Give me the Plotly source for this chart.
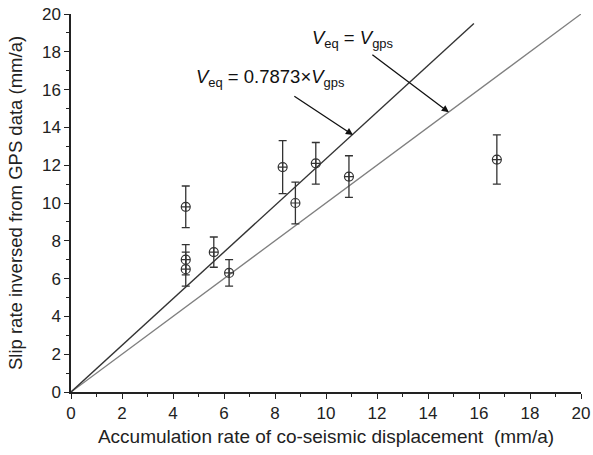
import plotly.graph_objects as go

# data
acc_rate = [4.5, 4.5, 4.5, 5.6, 6.2, 8.3, 8.8, 9.6, 10.9, 16.7]
slip_rate = [9.8, 7.0, 6.5, 7.4, 6.3, 11.9, 10.0, 12.1, 11.4, 12.3]
slip_err = [1.1, 0.8, 0.9, 0.8, 0.7, 1.4, 1.1, 1.1, 1.1, 1.3]

fit_x = [0, 15.8]
fit_y = [0, 19.5]
eq_x = [0, 20]
eq_y = [0, 20]

x_ticks = list(range(0, 21, 2))
y_ticks = list(range(0, 21, 2))

font = "Liberation Sans, Arial, sans-serif"

fig = go.Figure()
fig.add_trace(go.Scatter(x=eq_x, y=eq_y, mode="lines",
                         line=dict(color="#808080", width=1.3), showlegend=False))
fig.add_trace(go.Scatter(x=fit_x, y=fit_y, mode="lines",
                         line=dict(color="#333333", width=1.4), showlegend=False))
fig.add_trace(go.Scatter(
    x=acc_rate, y=slip_rate, mode="markers",
    marker=dict(symbol="circle-cross-open", size=9, color="#333333",
                line=dict(width=1.2, color="#333333")),
    error_y=dict(type="data", array=slip_err, visible=True, color="#333333",
                 thickness=1.3, width=4),
    showlegend=False))

ann_font = dict(family=font, size=18.5, color="#111")
fig.add_annotation(x=11.06, y=13.6, ax=8.7, ay=15.7, xref="x", yref="y",
                   axref="x", ayref="y", text="", showarrow=True,
                   arrowhead=2, arrowsize=1.1, arrowwidth=1.3, arrowcolor="#111")
fig.add_annotation(x=14.82, y=14.8, ax=11.76, ay=17.9, xref="x", yref="y",
                   axref="x", ayref="y", text="", showarrow=True,
                   arrowhead=2, arrowsize=1.1, arrowwidth=1.3, arrowcolor="#111")
fig.add_annotation(x=7.8, y=16.6, xref="x", yref="y", showarrow=False,
                   text="<i>V</i><sub>eq</sub> = 0.7873×<i>V</i><sub>gps</sub>",
                   font=ann_font)
fig.add_annotation(x=11.04, y=18.7, xref="x", yref="y", showarrow=False,
                   text="<i>V</i><sub>eq</sub> = <i>V</i><sub>gps</sub>",
                   font=ann_font)

axis_common = dict(range=[0, 20], showgrid=False, zeroline=False, automargin=False,
                   showline=True, linecolor="#222", linewidth=1.5,
                   ticks="outside", ticklen=5, tickwidth=1.3, tickcolor="#222",
                   tickfont=dict(family=font, size=17, color="#222"),
                   minor=dict(ticks="outside", dtick=1, ticklen=3,
                              tickwidth=1.2, tickcolor="#222"))
fig.update_xaxes(**axis_common, tickvals=x_ticks,
                 title=dict(text="Accumulation rate of co-seismic displacement \u00a0(mm/a)",
                            font=dict(family=font, size=19, color="#222"), standoff=8))
fig.update_yaxes(**axis_common, tickvals=y_ticks,
                 title=dict(text="Slip rate inversed from GPS data (mm/a)",
                            font=dict(family=font, size=18.5, color="#222"), standoff=14))
fig.update_layout(width=593, height=455, plot_bgcolor="white", paper_bgcolor="white",
                  margin=dict(l=71, r=12, t=14, b=63))
fig.write_html("out.html", config={"displayModeBar": False},
               post_script="document.body.style.margin='0';document.body.style.overflow='hidden';")
